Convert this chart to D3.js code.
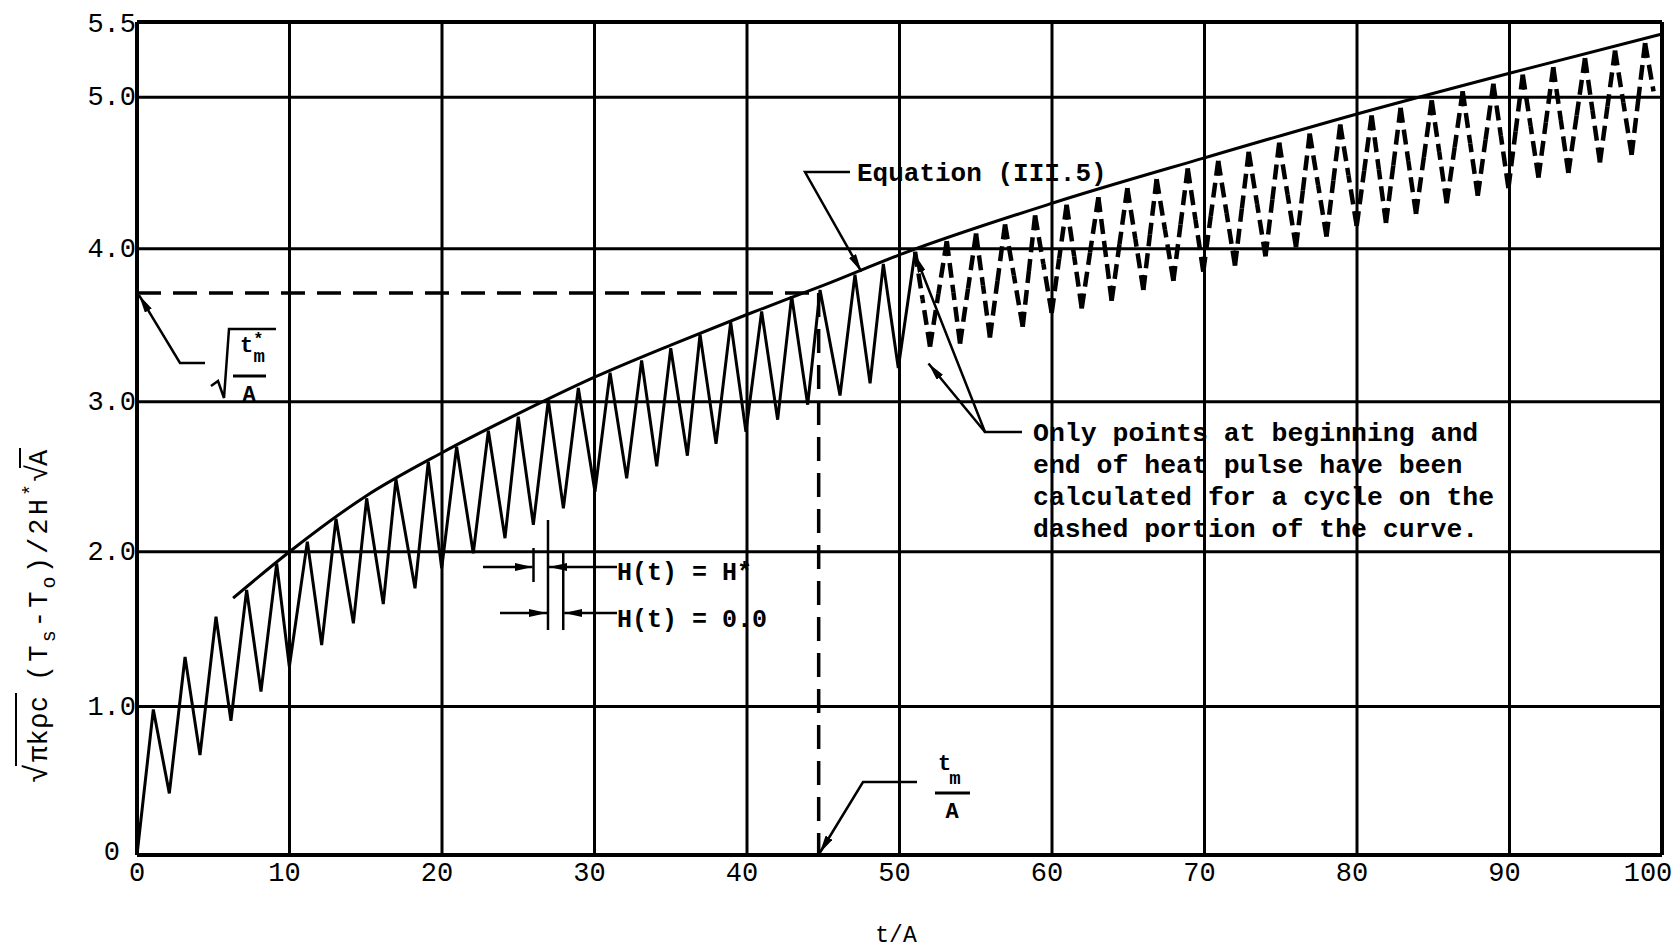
<!DOCTYPE html>
<html><head><meta charset="utf-8">
<script src="https://cdn.jsdelivr.net/npm/d3@7"></script>
<style>body{margin:0;background:#fff} svg{display:block}</style>
</head><body><svg id="c" width="1677" height="950"></svg>
<script>
const xTickValues = [0,10,20,30,40,50,60,70,80,90,100];
const xTickLabels = ["0","10","20","30","40","50","60","70","80","90","100"];
const yTickValues = [0,1,2,3,4,5,5.5];
const yTickLabels = ["0","1.0","2.0","3.0","4.0","5.0","5.5"];

// solid (fully calculated) cycles: alternating peak / valley
const solidT = [0,1.07,2.12,3.15,4.13,5.18,6.16,7.19,8.13,9.16,9.99,11.17,12.11,13.05,14.19,15.06,16.15,16.98,18.23,19.1,19.98,20.96,22.05,23.04,24.13,25.0,25.99,26.97,27.96,28.94,30.03,31.02,32.11,33.09,34.08,35.0,36.09,36.92,37.97,38.93,39.93,40.96,42.01,42.93,43.98,44.79,46.1,47.08,48.07,48.94,49.92,51.02];
const solidV = [0,0.98,0.415,1.32,0.673,1.58,0.904,1.753,1.096,1.925,1.257,2.067,1.397,2.22,1.537,2.356,1.662,2.483,1.764,2.60,1.893,2.70,1.99,2.807,2.09,2.90,2.18,3.01,2.29,3.09,2.40,3.19,2.49,3.27,2.57,3.35,2.64,3.44,2.72,3.52,2.80,3.59,2.88,3.69,2.98,3.73,3.04,3.83,3.12,3.90,3.22,3.98];

// dashed part: only beginning / end of heat pulse
const dashT = [51.02,52.0,53.1,53.97,55.02,55.93,56.92,58.08,58.89,59.98,60.96,61.95,63.04,63.91,64.94,65.99,66.86,67.96,68.9,69.92,70.9,72.0,72.9,74.0,74.9,76.0,76.9,78.0,78.9,79.98,80.96,81.9,82.86,83.87,84.9,85.88,86.93,87.92,88.94,89.93,90.87,91.9,92.87,93.86,94.95,95.93,96.92,98.01,98.89,100];
const dashV = [3.98,3.36,4.05,3.38,4.10,3.42,4.16,3.49,4.22,3.58,4.29,3.61,4.34,3.66,4.40,3.73,4.46,3.79,4.53,3.85,4.58,3.89,4.64,3.95,4.70,4.01,4.76,4.08,4.82,4.15,4.88,4.17,4.93,4.23,4.98,4.30,5.04,4.35,5.09,4.40,5.15,4.47,5.20,4.50,5.26,4.57,5.31,4.62,5.36,4.72];

// Equation (III.5)
const eqT = [6.3,10,15,20,25,30,35,40,45,50,60,70,80,90,100];
const eqV = [1.70,2.0,2.37,2.66,2.92,3.16,3.37,3.57,3.76,3.96,4.30,4.60,4.89,5.16,5.42];

const tmStarValue = 3.71;
const tmValue = 44.7;

const svg = d3.select("#c");
const x = d3.scaleLinear().domain([0,100]).range([137,1662]);
const y = d3.scaleLinear().domain([0,1,2,3,4,5,5.5]).range([855,706.5,551.7,401.7,248.7,97.3,22]);

const defs = svg.append("defs");
defs.append("marker").attr("id","ah").attr("viewBox","0 0 18 8").attr("refX",18).attr("refY",4)
  .attr("markerWidth",18).attr("markerHeight",8).attr("markerUnits","userSpaceOnUse").attr("orient","auto")
  .append("path").attr("d","M0,0L18,4L0,8Z").attr("fill","#000");

const g = svg.append("g");
// grid
g.selectAll(".vg").data(xTickValues).join("line")
  .attr("x1",d=>x(d)).attr("x2",d=>x(d)).attr("y1",y(0)).attr("y2",y(5.5))
  .attr("stroke","#000").attr("stroke-width",d=>(d===0||d===100)?4:3);
g.selectAll(".hg").data(yTickValues).join("line")
  .attr("x1",x(0)).attr("x2",x(100)).attr("y1",d=>y(d)).attr("y2",d=>y(d))
  .attr("stroke","#000").attr("stroke-width",d=>(d===0||d===5.5)?4:3);

// tick labels
const tickFont = "'Liberation Mono', monospace";
g.selectAll(".xl").data(xTickValues).join("text")
  .attr("x",(d,i)=>x(d) - (i===10?14:(i===0?0:5))).attr("y",881)
  .attr("text-anchor","middle").attr("font-family",tickFont).attr("font-size",27)
  .text((d,i)=>xTickLabels[i]);
g.selectAll(".yl").data(yTickValues).join("text")
  .attr("x",d=>d===0?120:136).attr("y",d=>y(d)+ (d===0?5:(d===5.5?10:8)))
  .attr("text-anchor","end").attr("font-family",tickFont).attr("font-size",27)
  .text((d,i)=>yTickLabels[i]);

// dashed reference lines
g.append("line").attr("x1",x(0)).attr("x2",x(tmValue)).attr("y1",y(tmStarValue)).attr("y2",y(tmStarValue))
  .attr("stroke","#000").attr("stroke-width",3.5).attr("stroke-dasharray","24,12");
g.append("line").attr("x1",x(tmValue)).attr("x2",x(tmValue)).attr("y1",y(tmStarValue)).attr("y2",y(0))
  .attr("stroke","#000").attr("stroke-width",3.5).attr("stroke-dasharray","24,12");

// curves
const line = d3.line().x(d=>x(d[0])).y(d=>y(d[1]));
const solidPts = solidT.map((t,i)=>[t,solidV[i]]);
const dashPts = dashT.map((t,i)=>[t,dashV[i]]);
const eqPts = eqT.map((t,i)=>[t,eqV[i]]);
g.append("path").attr("d",line(solidPts)).attr("fill","none").attr("stroke","#000").attr("stroke-width",3).attr("stroke-linejoin","miter");
// dashed: each segment drawn from both of its end points toward its middle so every vertex starts with a dash
const halves = [];
for(let i=0;i<dashPts.length-1;i++){
  const a=dashPts[i], b=dashPts[i+1];
  const m=[(a[0]+b[0])/2,(a[1]+b[1])/2];
  halves.push([a,m]);
  if(i<dashPts.length-2) halves.push([b,m]);
}
g.selectAll(".dh").data(halves).join("path").attr("d",d=>line(d)).attr("fill","none")
  .attr("stroke","#000").attr("stroke-width",4.5).attr("stroke-dasharray","15,7");
g.append("path").attr("d",line.curve(d3.curveMonotoneX)(eqPts)).attr("fill","none").attr("stroke","#000").attr("stroke-width",3);

// annotation helpers
const annFont = "'Liberation Mono', monospace";
function leader(pts, arrow){
  const p = g.append("path").attr("d","M"+pts.map(p=>p.join(",")).join("L"))
    .attr("fill","none").attr("stroke","#000").attr("stroke-width",2.5);
  if(arrow) p.attr("marker-end","url(#ah)");
}
function txt(xp,yp,s,size,anchor,weight){
  return g.append("text").attr("x",xp).attr("y",yp).attr("font-family",annFont).attr("font-size",size||25)
    .attr("font-weight",weight||"bold").attr("text-anchor",anchor||"start").text(s);
}

// Equation label
txt(857,181,"Equation (III.5)",26);
leader([[850,172],[805,172],[x(47.5),y(3.85)]],true);

// Only points label
const noteLines = ["Only points at beginning and","end of heat pulse have been","calculated for a cycle on the","dashed portion of the curve."];
noteLines.forEach((s,i)=>txt(1033,441+i*32,s,26.5));
leader([[1022,432],[985,432],[x(51.02),y(3.96)]],true);
leader([[985,432],[x(51.9),y(3.25)]],true);

// H(t) labels
txt(617,580,"H(t) = H*",25);
txt(617,627,"H(t) = 0.0",25);
[[26.0,548,582],[26.95,520,630],[27.95,553,630]].forEach(d=>{
  g.append("line").attr("x1",x(d[0])).attr("x2",x(d[0])).attr("y1",d[1]).attr("y2",d[2]).attr("stroke","#000").attr("stroke-width",2.5);
});
leader([[483,567],[x(26.0)-1,567]],true);
leader([[617,567],[x(26.95)+1,567]],true);
leader([[500,613],[x(26.95)-1,613]],true);
leader([[617,613],[x(27.95)+1,613]],true);

// sqrt(t*_m / A) label
leader([[205,363],[180,363],[x(0)+2,y(tmStarValue)+2]],true);
g.append("path").attr("d","M211,386L218,381L224,398L229,329L276,329").attr("fill","none").attr("stroke","#000").attr("stroke-width",2.5);
const tl = g.append("text").attr("x",240).attr("y",352).attr("font-family",annFont).attr("font-size",22).attr("font-weight","bold");
tl.append("tspan").text("t");
tl.append("tspan").attr("dy",-8).attr("font-size",17).text("*");
tl.append("tspan").attr("dx",-10).attr("dy",18).attr("font-size",19).text("m");
g.append("line").attr("x1",233).attr("x2",266).attr("y1",376).attr("y2",376).attr("stroke","#000").attr("stroke-width",3);
txt(249,401,"A",22,"middle");

// t_m / A label
leader([[917,782],[863,782],[x(tmValue)+1,y(0)-2]],true);
const tm = g.append("text").attr("x",938).attr("y",770).attr("font-family",annFont).attr("font-size",22).attr("font-weight","bold");
tm.append("tspan").text("t");
tm.append("tspan").attr("dx",-2).attr("dy",14).attr("font-size",19).text("m");
g.append("line").attr("x1",935).attr("x2",970).attr("y1",793).attr("y2",793).attr("stroke","#000").attr("stroke-width",3);
txt(952,818,"A",22,"middle");

// axis titles
txt(896,942,"t/A",23,"middle","normal");
const yg = g.append("g").attr("transform","translate(47,781) rotate(-90)");
function rt(xp,s,size){ return yg.append("text").attr("x",xp).attr("y",0).attr("font-family",annFont).attr("font-size",size||27).text(s); }
rt(-2,"√",32);
rt(19,"πkρc",27).attr("textLength",66).attr("lengthAdjust","spacing");
yg.append("line").attr("x1",15).attr("x2",88).attr("y1",-31).attr("y2",-31).attr("stroke","#000").attr("stroke-width",2);
const mid = rt(100,"",27).attr("textLength",197).attr("lengthAdjust","spacing");
mid.append("tspan").text("(T");
mid.append("tspan").attr("dy",8).attr("font-size",20).text("s");
mid.append("tspan").attr("dy",-8).text("-T");
mid.append("tspan").attr("dy",8).attr("font-size",20).text("o");
mid.append("tspan").attr("dy",-8).text(")/2H");
mid.append("tspan").attr("dy",-10).attr("font-size",20).text("*");
rt(299,"√",30);
rt(315,"A",27);
yg.append("line").attr("x1",313).attr("x2",333).attr("y1",-27).attr("y2",-27).attr("stroke","#000").attr("stroke-width",2);
</script></body></html>
